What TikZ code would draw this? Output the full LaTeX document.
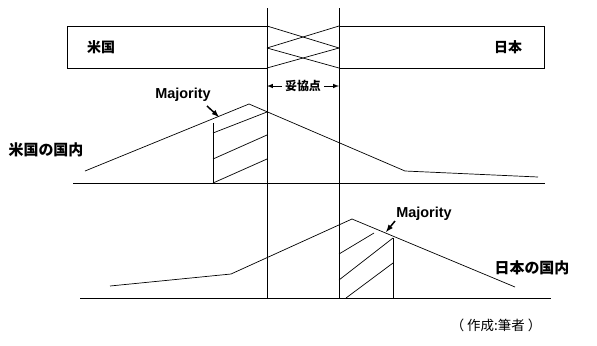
\documentclass[tikz,border=0pt]{standalone}
\usepackage{fontspec}
\setmainfont{Liberation Sans}
\newfontfamily\jpfont{Noto Sans CJK JP}
\usetikzlibrary{arrows,positioning,calc}

\begin{document}
\begin{tikzpicture}[x=1bp, y=-1bp, line width=0.7bp,
    jplabel/.style={font=\jpfont\bfseries\fontsize{14}{14}\selectfont, inner sep=0pt},
    majlabel/.style={font=\bfseries\fontsize{14.5}{14.5}\selectfont, inner sep=0pt},
    pointer/.style={-latex, line width=1.5bp}]
            \useasboundingbox (0,0) rectangle (597,345);

            % --- Top band: the two sides ---
            \draw (267,26) -- (67,26) -- (67,68) -- (267,68);
            \draw (339,26) -- (544,26) -- (544,68) -- (339,68);
            \draw (267,26) -- (339,48);
            \draw (267,48) -- (339,26);
            \draw (267,48) -- (339,68);
            \draw (267,68) -- (339,48);
            \node[jplabel] (us) at (101,47) {米国};
            \node[jplabel] (jp) at (508,47) {日本};

            % Compromise zone
            \draw (267,8) -- (267,298);
            \draw (339,8) -- (339,298);
            \node[jplabel, font=\jpfont\bfseries\fontsize{12}{12}\selectfont] (deal) at (303,86) {妥協点};
            \coordinate (dealL) at (267,86);
            \coordinate (dealR) at (339,86);
            \draw[-latex, line width=1bp] (deal.west) ++(-3,0) -- (dealL);
            \draw[-latex, line width=1bp] (deal.east) ++(3,0) -- (dealR);

            % --- Upper: US domestic ---
            \draw (73,183) -- (545,183);
            \draw (85,171) -- (249,104) -- (405,171) -- (538,177);
            \draw (213,123) -- (213,183);
            \draw (213,133) -- (267,112);
            \draw (213,159) -- (267,135);
            \draw (213,183) -- (267,159);
            \node[jplabel, font=\jpfont\bfseries\fontsize{15}{15}\selectfont] (usdom) at (46,150) {米国の国内};
            \node[majlabel] (maj1) at (183,95) {Majority};
            \coordinate (maj1tip) at (219,117);
            \draw[pointer] (207,106) -- (maj1tip);

            % --- Lower: Japan domestic ---
            \draw (80,298) -- (551,298);
            \draw (110,286) -- (231,274) -- (352,219) -- (515,287);
            \draw (393,238) -- (393,298);
            \draw (339,254) -- (374,233);
            \draw (339,280) -- (393,238);
            \draw (346,298) -- (393,263);
            \node[jplabel, font=\jpfont\bfseries\fontsize{15}{15}\selectfont] (jpdom) at (532,268) {日本の国内};
            \node[majlabel] (maj2) at (424,214) {Majority};
            \coordinate (maj2tip) at (386,232);
            \draw[pointer] (395,221) -- (maj2tip);

            % Source
            \node[font=\jpfont\fontsize{13.5}{14}\selectfont, inner sep=0pt] (src) at (496,325) {（\hspace{3bp}作成:筆者\hspace{3bp}）};
\end{tikzpicture}
\end{document}
